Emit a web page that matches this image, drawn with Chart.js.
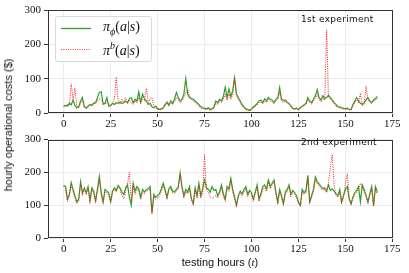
<!DOCTYPE html>
<html>
<head>
<meta charset="utf-8">
<script src="https://cdn.jsdelivr.net/npm/chart.js@4/dist/chart.umd.min.js"></script>
<style>
  html, body { margin: 0; padding: 0; background: #fff; }
  #wrap { position: relative; width: 409px; height: 273px; overflow: hidden; }
  canvas { position: absolute; left: 0; }
  .note { position: absolute; font: 9px "DejaVu Sans", sans-serif; color: #111; letter-spacing: 0.3px; }
  .legend {
    position: absolute; left: 55px; top: 16px; width: 95px; height: 44px;
    border: 1px solid #d9d9d9; border-radius: 3px; background: rgba(255,255,255,0.85);
    font: italic 14px "Liberation Serif", serif; color: #111;
  }
  .legend .row { position: absolute; left: 5px; height: 16px; }
  .legend svg { position: absolute; left: 0; top: 6px; }
  .legend .txt { position: absolute; left: 42px; top: -2px; white-space: nowrap; }
  .legend sub, .legend sup { font-size: 10px; }
  .up { font-style: normal; }
  #ylab {
    position: absolute; left: 8px; top: 125px; white-space: nowrap;
    font: 11px "Liberation Sans", sans-serif; color: #111;
    transform: translate(-50%, -50%) rotate(-90deg);
  }
  #xlab {
    position: absolute; left: 220px; top: 262px; white-space: nowrap;
    font: 11px "Liberation Sans", sans-serif; color: #111;
    transform: translate(-50%, -50%);
  }
</style>
</head>
<body>
<div id="wrap">
  <canvas id="top" width="409" height="130" style="top:0"></canvas>
  <canvas id="bottom" width="409" height="143" style="top:130px"></canvas>
  <div class="legend">
    <div class="row" style="top:4px">
      <svg width="30" height="3"><line x1="0" y1="1.5" x2="30" y2="1.5" stroke="#2ca02c" stroke-width="1.3"/></svg>
      <div class="txt">π<sub>ϕ</sub><span class="up">(</span>a<span class="up">|</span>s<span class="up">)</span></div></div>
    <div class="row" style="top:25px">
      <svg width="30" height="3"><line x1="0" y1="1.5" x2="30" y2="1.5" stroke="#ff3030" stroke-width="1" stroke-dasharray="1 1.3"/></svg>
      <div class="txt">π<sup>b</sup><span class="up">(</span>a<span class="up">|</span>s<span class="up">)</span></div></div>
  </div>
  <div class="note" style="left:301px; top:14px">1st experiment</div>
  <div class="note" style="left:301px; top:137px">2nd experiment</div>
  <div id="ylab">hourly operational costs ($)</div>
  <div id="xlab">testing hours (<i style="font-family:'Liberation Serif',serif">t</i>)</div>
</div>
<script>
const hours = Array.from({ length: 168 }, (_, i) => i);
const xTicks = [0, 25, 50, 75, 100, 125, 150, 175];
const yTicks = [0, 100, 200, 300];

// experiment 1
const learned1 = [20,22,20,28,24,38,22,15,18,35,45,18,14,20,25,22,28,30,45,60,
  62,25,28,45,20,22,28,25,30,28,32,28,30,35,30,42,45,30,40,35,
  62,32,55,40,35,25,28,18,15,20,12,10,12,15,25,30,22,35,28,40,
  60,45,35,40,55,100,55,45,42,40,35,30,25,18,15,14,12,15,10,12,
  18,35,30,40,35,48,75,45,70,48,65,103,55,45,35,25,18,12,10,8,
  12,18,22,28,35,38,30,42,35,45,40,38,30,40,45,74,40,38,35,30,
  28,20,14,12,14,10,16,20,24,28,45,35,30,40,50,68,45,38,50,42,
  45,52,45,38,30,25,19,18,15,14,12,14,11,10,25,35,45,35,28,25,
  30,38,45,35,30,38,42,48];
const baseline1 = [18,20,25,22,85,40,72,20,15,28,35,20,15,18,22,25,30,28,35,42,
  38,30,25,32,25,20,28,40,105,35,25,40,30,45,28,38,30,25,35,30,
  45,28,40,35,72,30,40,45,20,15,14,12,10,14,20,35,25,30,25,32,
  45,40,30,35,45,60,68,50,40,35,30,25,20,15,12,12,10,12,8,10,
  15,28,25,35,30,40,55,38,55,40,55,100,50,40,30,20,15,10,8,6,
  10,14,20,24,30,32,28,35,30,40,35,32,28,35,40,60,35,30,40,35,
  25,18,12,10,12,8,14,18,20,24,38,30,26,35,42,55,40,32,42,38,
  242,45,40,35,28,20,16,15,12,12,10,12,9,8,20,30,38,30,58,22,
  25,78,38,32,28,35,38,42];

// experiment 2
const learned2 = [160,157,119,133,169,148,129,110,119,172,138,153,138,157,114,153,143,114,150,188,
  138,110,148,143,138,111,143,153,145,160,153,140,133,153,162,124,100,167,143,157,
  150,124,148,140,148,150,157,76,133,124,129,135,150,167,148,124,150,157,143,140,
  148,155,198,157,129,148,140,157,120,105,153,129,167,129,150,177,153,148,140,157,
  145,148,129,140,162,135,119,157,150,182,148,125,100,130,143,135,148,157,133,145,
  138,119,140,162,119,135,157,162,150,177,157,167,177,140,110,148,130,105,140,148,
  162,133,145,138,129,110,100,148,138,145,191,110,130,148,186,172,165,157,150,153,
  143,162,145,150,143,135,129,148,110,130,148,157,119,105,125,138,145,157,110,162,
  148,130,110,135,157,100,157,140];
const baseline2 = [158,152,111,128,160,140,120,105,112,165,130,148,132,150,108,148,135,108,142,180,
  130,105,140,138,130,108,138,148,140,155,148,130,119,145,165,201,110,160,133,150,
  142,118,140,135,142,145,150,74,126,118,122,128,142,160,140,118,145,150,138,135,
  142,150,195,150,122,140,135,150,115,100,145,122,160,122,135,254,145,140,125,120,
  125,130,122,135,155,128,112,150,142,175,140,118,96,125,138,128,140,150,126,138,
  132,112,135,155,112,128,150,155,142,170,150,160,170,132,104,140,124,100,134,142,
  155,126,138,132,122,104,96,140,132,138,183,105,124,140,178,165,158,150,145,148,
  138,170,215,255,162,130,124,140,105,124,165,196,125,100,120,132,138,150,167,155,
  140,124,104,128,150,96,150,133];

const GREEN = '#2ca02c';
const RED = '#ff1a1a';

const frame = {
  id: 'frame',
  afterDatasetsDraw(chart) {
    const a = chart.chartArea;
    const ctx = chart.ctx;
    ctx.save();
    ctx.strokeStyle = '#333';
    ctx.lineWidth = 1;
    ctx.strokeRect(Math.round(a.left) + 0.5, Math.round(a.top) + 0.5,
      Math.round(a.right - a.left) - 1, Math.round(a.bottom - a.top) - 1);
    ctx.restore();
  }
};

function makeChart(id, learned, baseline, padTop, xHeight) {
  const tickFont = { family: 'Liberation Serif', size: 11 };
  return new Chart(document.getElementById(id), {
    type: 'line',
    data: {
      datasets: [
        {
          data: hours.map((h, i) => ({ x: h, y: learned[i] })),
          borderColor: GREEN, borderWidth: 1.2, pointRadius: 0, tension: 0, order: 1
        },
        {
          data: hours.map((h, i) => ({ x: h, y: baseline[i] })),
          borderColor: RED, borderWidth: 1, borderDash: [1, 1.3], pointRadius: 0, tension: 0, order: 0
        }
      ]
    },
    options: {
      responsive: false,
      animation: false,
      layout: { padding: { top: padTop, right: 16, left: 0, bottom: 0 } },
      plugins: { legend: { display: false }, tooltip: { enabled: false } },
      scales: {
        x: {
          type: 'linear', min: -8.35, max: 175.35,
          afterBuildTicks: s => { s.ticks = xTicks.map(v => ({ value: v })); },
          afterFit: s => { s.height = xHeight; },
          grid: { color: '#ececec', tickColor: '#333', tickLength: 4 },
          border: { display: false },
          ticks: { font: tickFont, color: '#111', padding: 1, maxRotation: 0 }
        },
        y: {
          min: 0, max: 300,
          afterBuildTicks: s => { s.ticks = yTicks.map(v => ({ value: v })); },
          afterFit: s => { s.width = 48; },
          grid: { color: '#ececec', tickColor: '#333', tickLength: 4 },
          border: { display: false },
          ticks: { font: tickFont, color: '#111', padding: 3 }
        }
      }
    },
    plugins: [frame]
  });
}

makeChart('top', learned1, baseline1, 10, 17);
makeChart('bottom', learned2, baseline2, 4, 35);
</script>
</body>
</html>
